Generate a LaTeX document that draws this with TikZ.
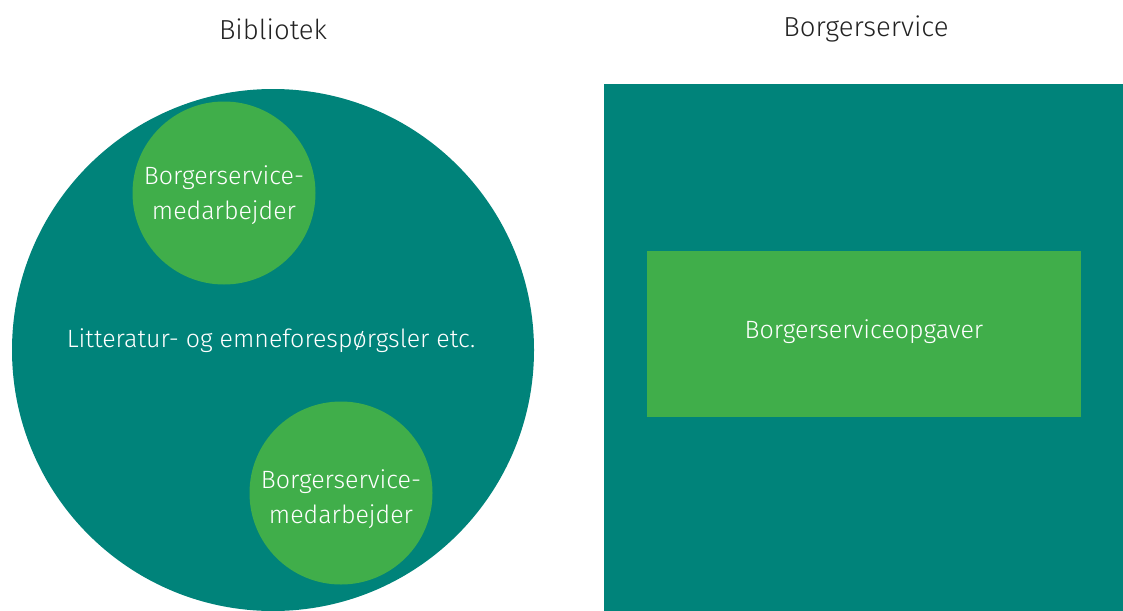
\documentclass[tikz,border=0pt]{standalone}
\usepackage{fontspec}
\setmainfont{Fira Sans Light}
\definecolor{teal}{HTML}{00837A}
\definecolor{grn}{HTML}{40AE4A}
\definecolor{ttl}{HTML}{222222}
\begin{document}
\begin{tikzpicture}[x=1pt,y=-1pt,
  title/.style={font=\fontsize{27.5}{32}\selectfont, text=ttl, inner sep=0pt},
  lbl/.style={font=\fontsize{25}{35}\selectfont, text=white, align=center, inner sep=0pt},
  bigcirc/.style={circle, fill=teal, draw=none, minimum size=522pt, inner sep=0pt},
  smallcirc/.style={circle, fill=grn, draw=none, minimum size=183pt, inner sep=0pt},
  panel/.style={fill=teal, draw=none},
  box/.style={fill=grn, draw=none, inner sep=0pt}]
\useasboundingbox (0,0) rectangle (1123,610);
\begin{scope}
\clip (0,0) rectangle (1123,610);
\node[bigcirc] (bib) at (273,350) {};
\node[smallcirc] (c1) at (224,193) {};
\node[smallcirc] (c2) at (341,493) {};
\fill[panel] (604,84) rectangle (1123,620);
\node[box, minimum width=434pt, minimum height=166pt] (task) at (864,334) {};
\end{scope}
\node[title] (t1) at (273,29) {Bibliotek};
\node[title] (t2) at (866,29) {Borgerservice};
\node[lbl] (l1) at (224,195) {Borgerservice-\\medarbejder};
\node[lbl] (l2) at (341,499) {Borgerservice-\\medarbejder};
\node[lbl] (l3) at (271,341) {Litteratur- og emneforespørgsler etc.};
\node[lbl] (l4) at (864,332) {Borgerserviceopgaver};
\end{tikzpicture}
\end{document}
